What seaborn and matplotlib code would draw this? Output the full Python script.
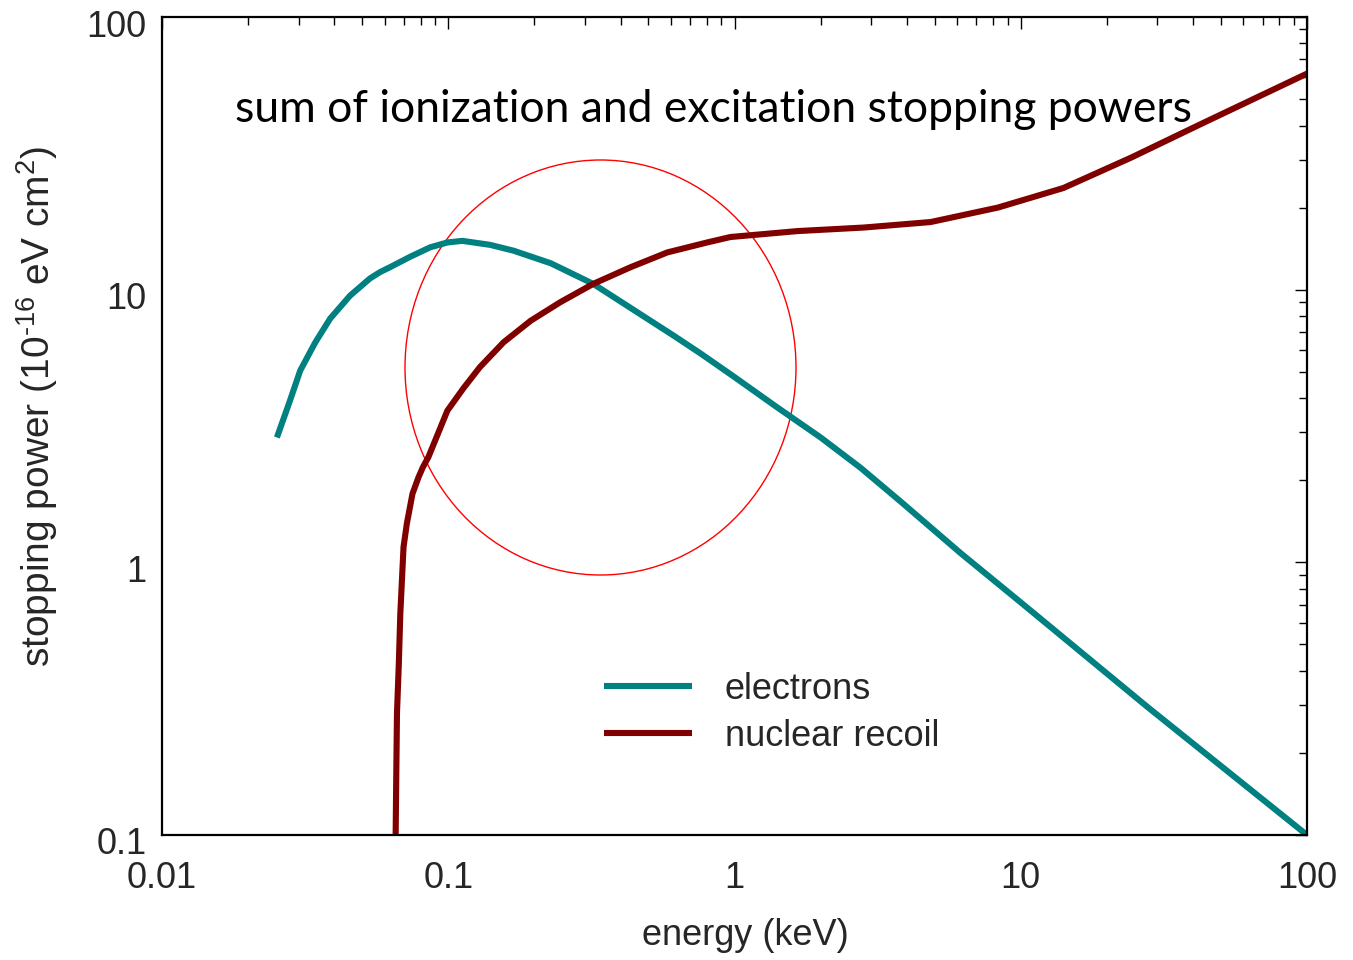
import numpy as np
import pandas as pd
import seaborn as sns
import matplotlib
matplotlib.use("Agg")
import matplotlib.pyplot as plt
from matplotlib.patches import Ellipse
from matplotlib.ticker import LogLocator, FixedLocator, FixedFormatter, NullFormatter
import matplotlib.transforms as mtransforms

# ---- data ----
electron_energy = [0.0252, 0.0280, 0.0304, 0.0343, 0.0387, 0.0454, 0.0533, 0.0578, 0.0627,
                   0.0736, 0.0865, 0.0993, 0.112, 0.140, 0.169, 0.228, 0.321, 0.432, 0.612,
                   0.760, 1.0, 1.4, 2.0, 2.76, 3.86, 6.17, 10.0, 27.8, 100.0]
electron_power = [2.87, 3.92, 5.05, 6.40, 7.84, 9.51, 11.0, 11.6, 12.1,
                  13.2, 14.3, 14.9, 15.1, 14.6, 13.9, 12.5, 10.5, 8.59, 6.79,
                  5.84, 4.78, 3.72, 2.87, 2.22, 1.65, 1.08, 0.713, 0.294, 0.1]

nuclear_energy = [0.0655, 0.0658, 0.0662, 0.0672, 0.0680, 0.0698, 0.0717, 0.0750, 0.0787,
                  0.0815, 0.0852, 0.0993, 0.113, 0.129, 0.156, 0.194, 0.246, 0.321, 0.432,
                  0.583, 0.803, 0.968, 1.66, 2.83, 4.84, 8.32, 14.1, 24.3, 42.6, 100.0]
nuclear_power = [0.1, 0.159, 0.279, 0.426, 0.648, 1.14, 1.39, 1.785, 2.05,
                 2.23, 2.43, 3.60, 4.35, 5.20, 6.41, 7.69, 8.99, 10.5, 12.07,
                 13.7, 14.9, 15.6, 16.4, 16.9, 17.7, 20.0, 23.6, 30.5, 40.5, 62.0]

series_names = ["electrons", "nuclear recoil"]
series_colors = ["#008080", "#800000"]

x_ticks = [0.01, 0.1, 1, 10, 100]
x_tick_labels = ["0.01", "0.1", "1", "10", "100"]
y_ticks = [0.1, 1, 10, 100]
y_tick_labels = ["0.1", "1", "10", "100"]

title_text = "sum of ionization and excitation stopping powers"
x_label = "energy (keV)"
y_label = r"stopping power (10$^{\text{-}16}$ eV cm$^{2}$)"

df = pd.concat([
    pd.DataFrame({"energy": electron_energy, "power": electron_power, "particle": series_names[0]}),
    pd.DataFrame({"energy": nuclear_energy, "power": nuclear_power, "particle": series_names[1]}),
], ignore_index=True)

# ---- style ----
sns.set_style("white")
plt.rcParams["font.family"] = ["Liberation Sans", "DejaVu Sans"]
plt.rcParams["mathtext.fontset"] = "custom"
plt.rcParams["mathtext.rm"] = "Liberation Sans"
plt.rcParams["mathtext.it"] = "Liberation Sans"
plt.rcParams["mathtext.default"] = "regular"

fig = plt.figure(figsize=(13.53, 9.6), dpi=100)
ax = fig.add_axes([162/1353, 1 - 835/960, (1307-162)/1353, (835-17)/960])

sns.lineplot(data=df, x="energy", y="power", hue="particle",
             palette=dict(zip(series_names, series_colors)),
             sort=False, estimator=None, linewidth=4.4, ax=ax,
             legend=True)
for ln in ax.get_lines():
    ln.set_solid_capstyle("butt")
    ln.set_solid_joinstyle("round")

ax.set_xscale("log")
ax.set_yscale("log")
ax.set_xlim(0.01, 100)
ax.set_ylim(0.1, 100)

ax.xaxis.set_major_locator(FixedLocator(x_ticks))
ax.xaxis.set_major_formatter(FixedFormatter(x_tick_labels))
ax.yaxis.set_major_locator(FixedLocator(y_ticks))
ax.yaxis.set_major_formatter(FixedFormatter(y_tick_labels))
ax.xaxis.set_minor_locator(LogLocator(base=10, subs=np.arange(2, 10)))
ax.yaxis.set_minor_locator(LogLocator(base=10, subs=np.arange(2, 10)))
ax.xaxis.set_minor_formatter(NullFormatter())
ax.yaxis.set_minor_formatter(NullFormatter())

ax.tick_params(which="both", direction="in", top=True, right=True, color="black")
ax.tick_params(which="major", length=8.5, width=1.0, labelsize=26)
ax.tick_params(which="minor", length=5.5, width=1.0)
ax.tick_params(axis="x", which="major", pad=19)
ax.tick_params(axis="y", which="major", pad=11)

offset = mtransforms.ScaledTranslation(0, -6/100, fig.dpi_scale_trans)
for lab in ax.get_yticklabels():
    lab.set_transform(lab.get_transform() + offset)

for sp in ax.spines.values():
    sp.set_visible(True)
    sp.set_color("black")
    sp.set_linewidth(1.6)

ax.set_xlabel(x_label, fontsize=26)
ax.set_ylabel(y_label, fontsize=28)
ax.xaxis.set_label_coords((745-162)/1145, -0.102)
ax.yaxis.set_label_coords((60-162)/1145, (835-406)/818)

ax.text(0.0638, 0.8716, title_text, transform=ax.transAxes, fontsize=32,
        family=["Lato", "DejaVu Sans"], ha="left", va="baseline", color="black")

ell = Ellipse(((600.5-162)/1145, (835-367.5)/818), 391/1145, 415/818,
              transform=ax.transAxes, fill=False, edgecolor="red", linewidth=1.0)
ax.add_patch(ell)

handles, labels = ax.get_legend_handles_labels()
leg = ax.legend(handles, labels, loc="upper left",
                bbox_to_anchor=((604-162)/1145, (835-672)/818),
                frameon=False, fontsize=26, handlelength=2.45, handletextpad=0.9,
                labelspacing=0.32, borderaxespad=0, borderpad=0)
for h in leg.get_lines():
    h.set_linewidth(4.4)

fig.savefig("out.png", dpi=100, facecolor="white")
